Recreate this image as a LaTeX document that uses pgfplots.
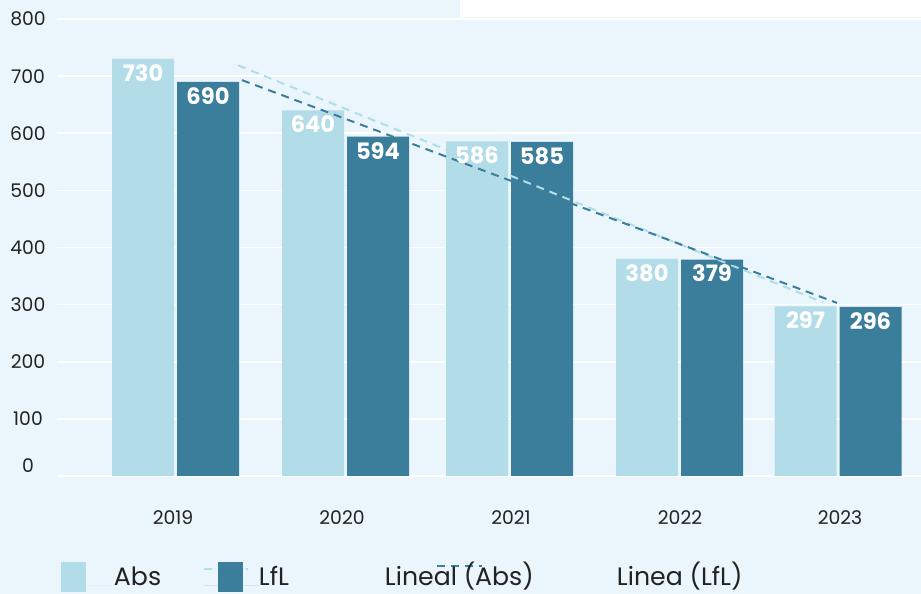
\documentclass[border=0pt]{standalone}
\usepackage{pgfplots}
\pgfplotsset{compat=1.18}
\usepackage{fontspec}
\setmainfont{Poppins}
\definecolor{bgc}{HTML}{EAF6FB}
\definecolor{lightc}{HTML}{B2DDE8}
\definecolor{darkc}{HTML}{3B7E9B}
\definecolor{txt}{HTML}{222222}
\begin{document}
\begin{tikzpicture}
\useasboundingbox (0,0) rectangle (460.5pt,297pt);
\clip (0,0) rectangle (460.5pt,297pt);
\fill[bgc] (0,0) rectangle (460.5pt,297pt);
\fill[white] (230pt,288.5pt) rectangle (460.5pt,297pt);
\begin{axis}[
  at={(28.5pt,59pt)}, anchor=south west,
  scale only axis, width=432pt, height=228.5pt,
  xmin=57, xmax=921, ymin=0, ymax=800,
  ybar, bar width=31pt,
  axis x line*=bottom, axis y line*=left,
  x axis line style={draw=gray, line width=0.9pt, -},
  y axis line style={draw=none},
  major tick length=0pt,
  xtick={173,342,511,680,840},
  xticklabels={2019,2020,2021,2022,2023},
  ytick={100,200,...,800},
  extra y ticks={0},
  extra y tick style={yticklabel style={yshift=5pt}},
  ymajorgrids, grid style={white, line width=0.8pt},
  tick label style={font=\fontsize{9.4}{11}\selectfont, text=txt},
  xticklabel style={anchor=center, yshift=-21pt, font=\fontsize{9.4}{11}\selectfont},
  yticklabel style={anchor=center, xshift=-14.5pt},
  /pgf/number format/assume math mode=true,
  legend columns=4,
  legend cell align=left,
  legend style={at={(0.00463,-0.188)}, anchor=north west, draw=none, fill=none,
    inner sep=0pt, outer sep=0pt, column sep=0pt, row sep=0pt,
    font=\fontsize{12.6}{15}\selectfont, text=txt,
    nodes={inner sep=0pt, outer sep=0pt, anchor=base west}},
  every node near coord/.append style={font=\bfseries\fontsize{11.3}{13}\selectfont, text=white, anchor=center, yshift=-7pt},
]
\addplot[fill=lightc, draw=none, bar shift=-16.25pt, nodes near coords,
  legend image code/.code={\fill[lightc] (0pt,-3pt) rectangle (12.5pt,12pt); \path (0pt,0pt) -- (26.5pt,0pt);}]
  coordinates {(175.5,730) (345.5,640) (509.5,586) (679.5,380) (838,297)};
\addlegendentry{\makebox[44.5pt][l]{Abs}}
\addplot[fill=darkc, draw=none, bar shift=16.25pt, nodes near coords,
  legend image code/.code={\draw[lightc, line width=1pt, dash pattern=on 4pt off 3pt] (0pt,8.5pt) -- (22pt,8.5pt); \fill[darkc] (7pt,-3pt) rectangle (19.5pt,12pt); \path (0pt,0pt) -- (27.5pt,0pt);}]
  coordinates {(175.5,690) (345.5,594) (509.5,585) (679.5,379) (838,296)};
\addlegendentry{\makebox[62pt][l]{LfL}}
\addplot[sharp plot, color=lightc, line width=1pt, dash pattern=on 4pt off 3pt, mark=none,
  legend image code/.code={\draw[overlay, darkc, line width=1pt, dash pattern=on 4pt off 3pt] (26.5pt,10pt) -- (49pt,10pt); \path (0pt,0pt);}]
  coordinates {(238,719) (823,304)};
\addlegendentry{\makebox[115pt][l]{Lineal (Abs)}}
\addplot[sharp plot, color=darkc, line width=1pt, dash pattern=on 4pt off 3pt, mark=none,
  legend image code/.code={\path (0pt,0pt);}]
  coordinates {(242,693) (837,303)};
\addlegendentry{Linea (LfL)}
\end{axis}
\end{tikzpicture}
\end{document}
